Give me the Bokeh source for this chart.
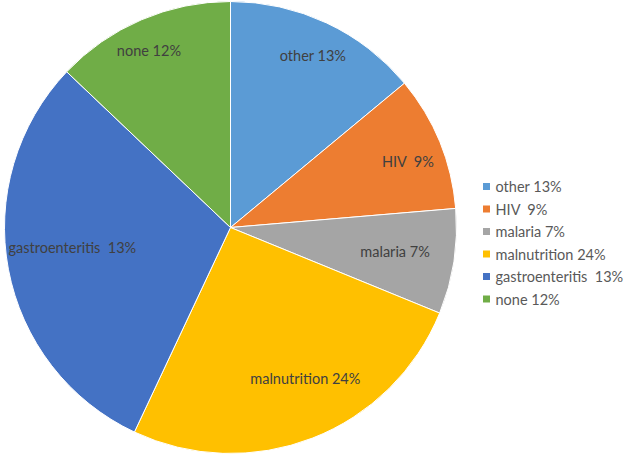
import numpy as np
from bokeh.plotting import figure
from bokeh.models import Range1d, ColumnDataSource
from bokeh.core.properties import value
from bokeh.embed import file_html
from bokeh.resources import INLINE

# ---- data ----
categories = ["other", "HIV", "malaria", "malnutrition", "gastroenteritis", "none"]
values = [13, 9, 7, 24, 28, 12]
labels = ["other 13%", "HIV\u00a0\u00a09%", "malaria 7%", "malnutrition 24%",
          "gastroenteritis\u00a0\u00a013%", "none 12%"]

# ---- style / layout ----
colors = ["#5B9BD5", "#ED7D31", "#A5A5A5", "#FFC000", "#4472C4", "#70AD47"]
label_r = [0.846, 0.837, 0.736, 0.745, 0.705, 0.863]
label_dang = [0.4, 1.9, -0.4, -5.1, 3.6, -1.5]  # degrees, clockwise tweak
FONT = "Lato"

W, H = 630, 455
p = figure(width=W, height=H, x_range=Range1d(0, W), y_range=Range1d(0, H),
           output_backend="svg", toolbar_location=None, min_border=0)
p.axis.visible = False
p.grid.visible = False
p.outline_line_color = None
p.background_fill_color = "white"
p.border_fill_color = "white"

cx, cy, R = 230, 228, 226
vals = np.array(values, dtype=float)
frac = vals / vals.sum()
cum = np.concatenate([[0.0], np.cumsum(frac)])
start = np.pi / 2 - 2 * np.pi * cum[:-1]
end = np.pi / 2 - 2 * np.pi * cum[1:]
mid = (start + end) / 2 - np.radians(label_dang)
lr = np.array(label_r) * R

src = ColumnDataSource(dict(
    cat=categories, start=start, end=end, color=colors, label=labels,
    lx=cx + lr * np.cos(mid), ly=cy + lr * np.sin(mid),
))

p.wedge(x=cx, y=cy, radius=R, start_angle="start", end_angle="end",
        direction="clock", fill_color="color", line_color="white",
        line_width=1, source=src)

p.text(x="lx", y="ly", text="label", source=src, text_align="center",
       text_baseline="middle", text_font=value(FONT), text_font_size="14.5px",
       text_color="#404040")

# ---- legend (manual) ----
n = len(categories)
leg_x = 486
leg_y0 = H - 186
leg_dy = 22.5
ly = [leg_y0 - i * leg_dy for i in range(n)]
lsrc = ColumnDataSource(dict(x=[leg_x] * n, tx=[leg_x + 9] * n, y=ly,
                             color=colors, label=labels))
p.scatter(x="x", y="y", marker="square", size=7, fill_color="color",
          line_color=None, source=lsrc)
p.text(x="tx", y="y", text="label", source=lsrc, text_align="left",
       text_baseline="middle", text_font=value(FONT), text_font_size="14.5px",
       text_color="#595959")

open("out.html", "w").write(file_html(p, INLINE))
